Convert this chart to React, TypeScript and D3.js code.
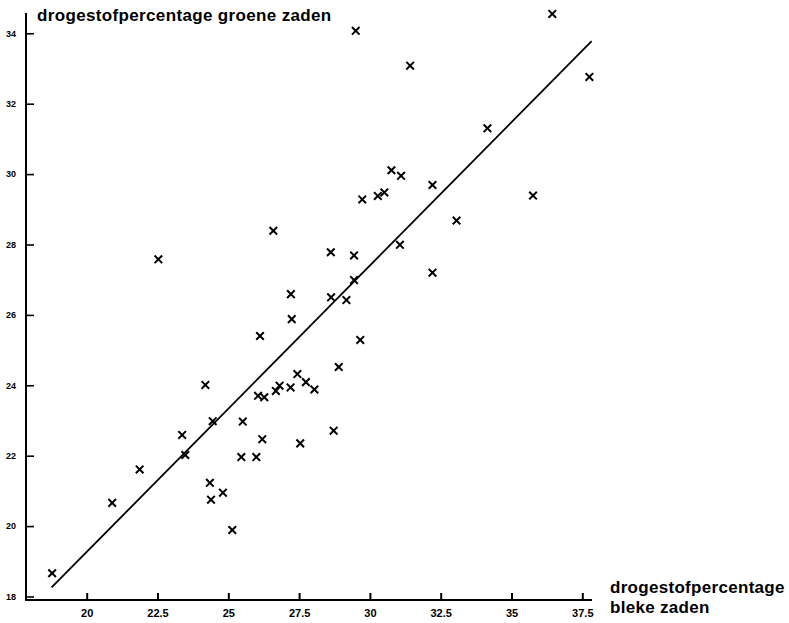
import * as d3 from "d3";
import { useEffect, useRef } from "react";

// drogestofpercentage bleke zaden (x) and groene zaden (y)
const blekeZaden = [18.78, 20.9, 21.87, 22.53, 23.37, 23.48, 24.19, 24.45, 24.35, 24.39, 24.81, 25.14, 25.51, 25.46, 25.99, 26.05, 26.27, 26.12, 26.2, 26.59, 26.68, 26.81, 27.2, 27.21, 27.24, 27.44, 27.54, 27.74, 28.04, 28.62, 28.63, 28.72, 28.9, 29.17, 29.44, 29.44, 29.5, 29.66, 29.73, 30.28, 30.51, 30.76, 31.06, 31.1, 31.42, 32.21, 32.21, 33.06, 34.15, 35.76, 36.44, 37.75];
const groeneZaden = [18.66, 20.66, 21.61, 27.58, 22.59, 22.02, 24.01, 22.98, 21.23, 20.75, 20.95, 19.89, 22.97, 21.96, 21.96, 23.7, 23.66, 25.4, 22.47, 28.39, 23.84, 23.99, 23.94, 26.59, 25.88, 24.32, 22.35, 24.09, 23.88, 27.78, 26.5, 22.71, 24.52, 26.42, 27.69, 26.99, 34.07, 25.29, 29.28, 29.38, 29.48, 30.11, 27.99, 29.95, 33.08, 29.69, 27.2, 28.68, 31.3, 29.39, 34.55, 32.76];

const xTicks = [20, 22.5, 25, 27.5, 30, 32.5, 35, 37.5];
const yTicks = [18, 20, 22, 24, 26, 28, 30, 32, 34];

// fitted line y = a + b x, drawn over this x range
const fitRange = [18.76, 37.83];
const fitIntercept = 2.99;
const fitSlope = 0.8138;

const width = 789;
const height = 623;
const axisX = 26;
const axisY = 600;
const font = "'Liberation Sans', Arial, Helvetica, sans-serif";

export default function App() {
  const svgRef = useRef<SVGSVGElement>(null);

  useEffect(() => {
    if (!svgRef.current) return;
    document.body.style.margin = "0";

    const svg = d3.select(svgRef.current);
    svg.selectAll("*").remove();

    const x = d3.scaleLinear().domain([20, 37.5]).range([86.7, 582.3]);
    const y = d3.scaleLinear().domain([18, 34]).range([596.5, 33.3]);

    // axes: plain lines, ticks pointing inwards
    svg.append("line")
      .attr("x1", axisX).attr("x2", axisX)
      .attr("y1", 13).attr("y2", axisY + 1)
      .attr("stroke", "#000").attr("stroke-width", 2);
    svg.append("line")
      .attr("x1", axisX - 1).attr("x2", 592)
      .attr("y1", axisY).attr("y2", axisY)
      .attr("stroke", "#000").attr("stroke-width", 2);

    const xAxis = svg.append("g")
      .attr("transform", `translate(0, ${axisY})`)
      .call(d3.axisBottom(x).tickValues(xTicks).tickSize(-7).tickPadding(9)
        .tickFormat((d) => String(d)));
    xAxis.select(".domain").remove();
    xAxis.selectAll("line").attr("stroke-width", 2);
    xAxis.selectAll("text")
      .attr("font-family", font).attr("font-size", 11).attr("font-weight", "bold");

    const yAxis = svg.append("g")
      .attr("transform", `translate(${axisX}, 0)`)
      .call(d3.axisLeft(y).tickValues(yTicks).tickSize(-8).tickPadding(10)
        .tickFormat((d) => String(d)));
    yAxis.select(".domain").remove();
    yAxis.selectAll("line").attr("stroke-width", 1.6);
    yAxis.selectAll("text")
      .attr("font-family", font).attr("font-size", 9).attr("font-weight", "bold");

    // regression line
    const fitLine = d3.line<number>()
      .x((d) => x(d))
      .y((d) => y(fitIntercept + fitSlope * d));
    svg.append("path")
      .attr("d", fitLine(fitRange))
      .attr("fill", "none")
      .attr("stroke", "#000")
      .attr("stroke-width", 1.8);

    // crosses
    const points = blekeZaden.map((b, i) => ({ b, g: groeneZaden[i] }));
    svg.append("g").selectAll("path")
      .data(points)
      .join("path")
      .attr("d", (d) => {
        const cx = x(d.b);
        const cy = y(d.g);
        const r = 3.8;
        return `M${cx - r},${cy - r}L${cx + r},${cy + r}M${cx - r},${cy + r}L${cx + r},${cy - r}`;
      })
      .attr("stroke", "#000")
      .attr("stroke-width", 2)
      .attr("fill", "none");

    // axis titles
    svg.append("text")
      .attr("x", 37).attr("y", 21)
      .attr("font-family", font).attr("font-size", 17).attr("font-weight", "bold")
      .attr("letter-spacing", 0.35)
      .text("drogestofpercentage groene zaden");

    const xTitle = svg.append("text")
      .attr("font-family", font).attr("font-size", 17).attr("font-weight", "bold")
      .attr("letter-spacing", 0.3);
    xTitle.append("tspan").attr("x", 610).attr("y", 593).text("drogestofpercentage");
    xTitle.append("tspan").attr("x", 610).attr("y", 613).text("bleke zaden");
  }, []);

  return (
    <svg
      ref={svgRef}
      width={width}
      height={height}
      style={{ position: "absolute", left: 0, top: 0, background: "#fff" }}
    ></svg>
  );
}
